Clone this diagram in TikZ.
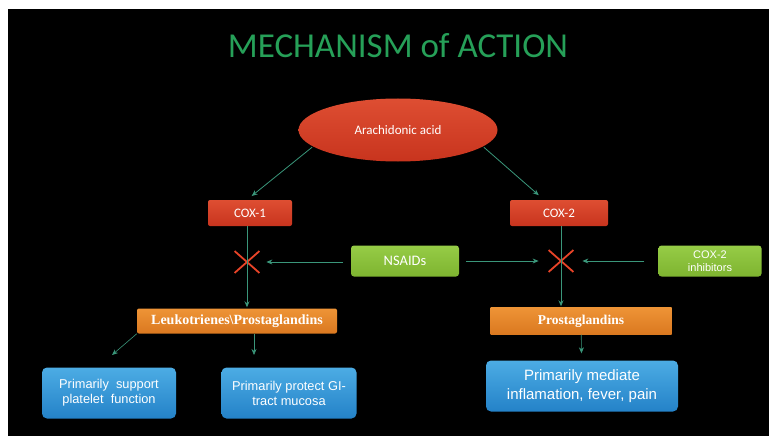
\documentclass[tikz,border=0pt]{standalone}
\usepackage{fontspec}
\setmainfont{Carlito}
\newfontfamily\arialfont{Liberation Sans}
\newfontfamily\timesfont{Liberation Serif}
\usetikzlibrary{arrows.meta,shapes.geometric,shapes.misc}

\definecolor{titlegreen}{RGB}{38,160,88}
\definecolor{linkteal}{RGB}{58,150,122}
\definecolor{coxred}{RGB}{222,78,50}
\definecolor{coxreddark}{RGB}{200,52,30}
\definecolor{druggreen}{RGB}{150,204,70}
\definecolor{druggreendark}{RGB}{126,180,48}
\definecolor{prostorange}{RGB}{238,148,54}
\definecolor{prostorangedark}{RGB}{218,120,32}
\definecolor{effectblue}{RGB}{76,172,228}
\definecolor{effectbluedark}{RGB}{36,130,200}
\definecolor{blockred}{RGB}{232,68,40}

\begin{document}
\begin{tikzpicture}[x=1pt,y=-1pt,
    link/.style={draw=linkteal,line width=0.8pt,-{Stealth[length=6pt,width=5pt]}},
    coxbox/.style={rectangle,rounded corners=2pt,top color=coxred,bottom color=coxreddark,
      text=white,inner sep=0pt,minimum height=26pt,font=\fontsize{13}{15}\selectfont},
    drugbox/.style={rectangle,rounded corners=3pt,top color=druggreen,bottom color=druggreendark,
      text=white,inner sep=0pt,minimum height=31pt,align=center},
    prostbox/.style={rectangle,top color=prostorange,bottom color=prostorangedark,
      text=white,inner sep=0pt,font=\timesfont\bfseries\fontsize{14}{16}\selectfont},
    effectbox/.style={rectangle,rounded corners=5pt,top color=effectblue,bottom color=effectbluedark,
      text=white,inner sep=0pt,align=center},
    block/.style={cross out,draw=blockred,line width=1.8pt,inner sep=0pt,
      minimum width=23pt,minimum height=20pt}
  ]
  \useasboundingbox (0,0) rectangle (769,436);
  \fill[white] (0,0) rectangle (769,436);
  \fill[black] (8,9) rectangle (769,436);

  % title
  \node[text=titlegreen,font=\fontsize{35}{40}\selectfont] (title) at (398,46) {MECHANISM of ACTION};

  % substrate and enzymes
  \node[ellipse,top color=coxred,bottom color=coxreddark,text=white,inner sep=0pt,
    minimum width=199pt,minimum height=63pt,font=\fontsize{13}{15}\selectfont] (arach) at (398,130) {Arachidonic acid};
  \node[coxbox,minimum width=84pt] (cox1) at (250,213) {COX-1};
  \node[coxbox,minimum width=98pt] (cox2) at (559,213) {COX-2};

  % inhibitors
  \node[drugbox,minimum width=108pt,font=\fontsize{14.5}{16}\selectfont] (nsaids) at (405,261) {NSAIDs};
  \node[drugbox,minimum width=103pt,font=\arialfont\fontsize{11}{13}\selectfont] (coxinh) at (710,261) {COX-2\\inhibitors};
  \node[block] (x1) at (247,262) {};
  \node[block] (x2) at (561,261) {};

  % products
  \node[prostbox,rounded corners=2pt,minimum width=200pt,minimum height=25pt] (leuk) at (237,321) {Leukotrienes\textbackslash Prostaglandins};
  \node[prostbox,minimum width=181pt,minimum height=27pt,font=\timesfont\bfseries\fontsize{13.5}{16}\selectfont] (prost) at (581,321) {Prostaglandins};

  % effects
  \node[effectbox,minimum width=134pt,minimum height=51pt,font=\arialfont\fontsize{12.8}{15}\selectfont] (platelet) at (109,393) {Primarily \ support\\platelet \ function};
  \node[effectbox,minimum width=135pt,minimum height=51pt,font=\arialfont\fontsize{12.8}{15}\selectfont] (mucosa) at (289,393) {Primarily protect GI-\\tract mucosa};
  \node[effectbox,minimum width=192pt,minimum height=51pt,font=\arialfont\fontsize{15}{19}\selectfont] (mediate) at (582,386) {Primarily mediate\\inflamation, fever, pain};

  \coordinate (plateletend) at (112,355);
  \coordinate (mucosaend) at (254,355);

  % connectors
  \draw[link,shorten <=1pt,shorten >=6pt] (arach.191) -- ([xshift=-3pt]cox1.north);
  \draw[link,shorten <=1pt,shorten >=7pt] (arach.-11) -- ([xshift=-15pt]cox2.north);
  \draw[link,shorten >=1pt] (x1 |- cox1.south) -- (x1 |- leuk.north);
  \draw[link,shorten >=1pt] (x2 |- cox2.south) -- (x2 |- prost.north);
  \draw[link,shorten <=8pt,shorten >=7pt] (nsaids.west |- x1) -- (x1.east);
  \draw[link,shorten <=7pt,shorten >=10pt] (nsaids.east |- x2) -- (x2.west);
  \draw[link,shorten <=14pt,shorten >=9pt] (coxinh.west |- x2) -- (x2.east);
  \draw[link,line width=0.6pt] (leuk.south west) -- (plateletend);
  \draw[link,line width=0.6pt] (mucosaend |- leuk.south) -- (mucosaend);
  \draw[link,line width=0.6pt,shorten >=7pt] (prost) -- (mediate);
\end{tikzpicture}
\end{document}
